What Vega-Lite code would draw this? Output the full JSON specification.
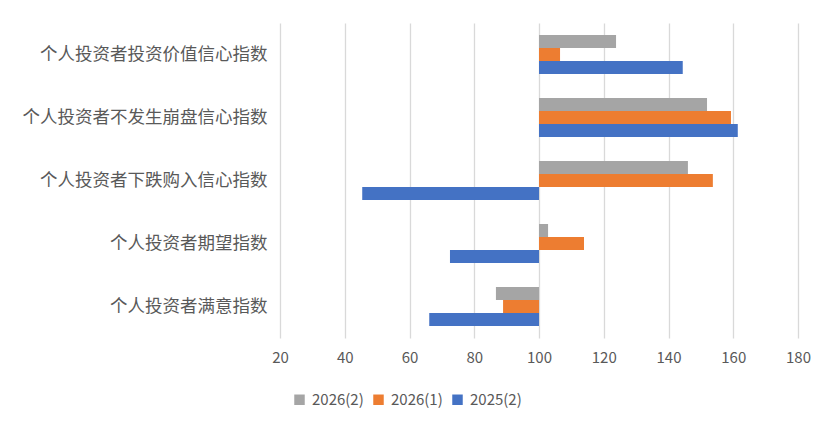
{
  "$schema": "https://vega.github.io/schema/vega-lite/v6.json",
  "width": 518,
  "height": 315,
  "autosize": {"type": "none"},
  "padding": {"left": 280, "top": 23, "right": 25, "bottom": 91},
  "background": "white",
  "config": {
    "font": "Noto Sans CJK SC",
    "view": {"stroke": null}
  },
  "data": {
    "values": [
      {"cat": "个人投资者投资价值信心指数", "series": "2026(2)", "value": 123.8},
      {"cat": "个人投资者投资价值信心指数", "series": "2026(1)", "value": 106.5},
      {"cat": "个人投资者投资价值信心指数", "series": "2025(2)", "value": 144.4},
      {"cat": "个人投资者不发生崩盘信心指数", "series": "2026(2)", "value": 151.9},
      {"cat": "个人投资者不发生崩盘信心指数", "series": "2026(1)", "value": 159.3},
      {"cat": "个人投资者不发生崩盘信心指数", "series": "2025(2)", "value": 161.4},
      {"cat": "个人投资者下跌购入信心指数", "series": "2026(2)", "value": 146.0},
      {"cat": "个人投资者下跌购入信心指数", "series": "2026(1)", "value": 153.7},
      {"cat": "个人投资者下跌购入信心指数", "series": "2025(2)", "value": 45.4},
      {"cat": "个人投资者期望指数", "series": "2026(2)", "value": 102.8},
      {"cat": "个人投资者期望指数", "series": "2026(1)", "value": 113.9},
      {"cat": "个人投资者期望指数", "series": "2025(2)", "value": 72.5},
      {"cat": "个人投资者满意指数", "series": "2026(2)", "value": 86.7},
      {"cat": "个人投资者满意指数", "series": "2026(1)", "value": 88.9},
      {"cat": "个人投资者满意指数", "series": "2025(2)", "value": 66.1}
    ]
  },
  "mark": {"type": "bar"},
  "encoding": {
    "y": {
      "field": "cat",
      "type": "nominal",
      "sort": ["个人投资者投资价值信心指数", "个人投资者不发生崩盘信心指数", "个人投资者下跌购入信心指数", "个人投资者期望指数", "个人投资者满意指数"],
      "scale": {"paddingInner": 0.38, "paddingOuter": 0.19},
      "axis": {
        "title": null,
        "domain": false,
        "ticks": false,
        "labelFontSize": 17.5,
        "labelColor": "#595959",
        "labelPadding": 13,
        "labelLimit": 400
      }
    },
    "yOffset": {
      "field": "series",
      "type": "nominal",
      "sort": ["2026(2)", "2026(1)", "2025(2)"],
      "scale": {"paddingInner": 0, "paddingOuter": 0}
    },
    "x": {
      "field": "value",
      "type": "quantitative",
      "scale": {"domain": [20, 180], "nice": false, "zero": false},
      "axis": {
        "title": null,
        "values": [20, 40, 60, 80, 100, 120, 140, 160, 180],
        "domain": false,
        "ticks": false,
        "grid": true,
        "gridColor": "#d9d9d9",
        "gridWidth": 1.3,
        "labelFontSize": 15,
        "labelColor": "#595959",
        "labelPadding": 12,
        "labelFlush": false
      }
    },
    "x2": {"datum": 100},
    "color": {
      "field": "series",
      "type": "nominal",
      "sort": ["2026(2)", "2026(1)", "2025(2)"],
      "scale": {"domain": ["2026(2)", "2026(1)", "2025(2)"], "range": ["#A5A5A5", "#ED7D31", "#4472C4"]},
      "legend": {
        "title": null,
        "orient": "none",
        "direction": "horizontal",
        "legendX": 12,
        "legendY": 369,
        "symbolType": "square",
        "symbolSize": 110,
        "symbolStrokeWidth": 0,
        "labelFontSize": 15,
        "labelColor": "#595959",
        "columnPadding": 7,
        "labelOffset": 5
      }
    }
  }
}
